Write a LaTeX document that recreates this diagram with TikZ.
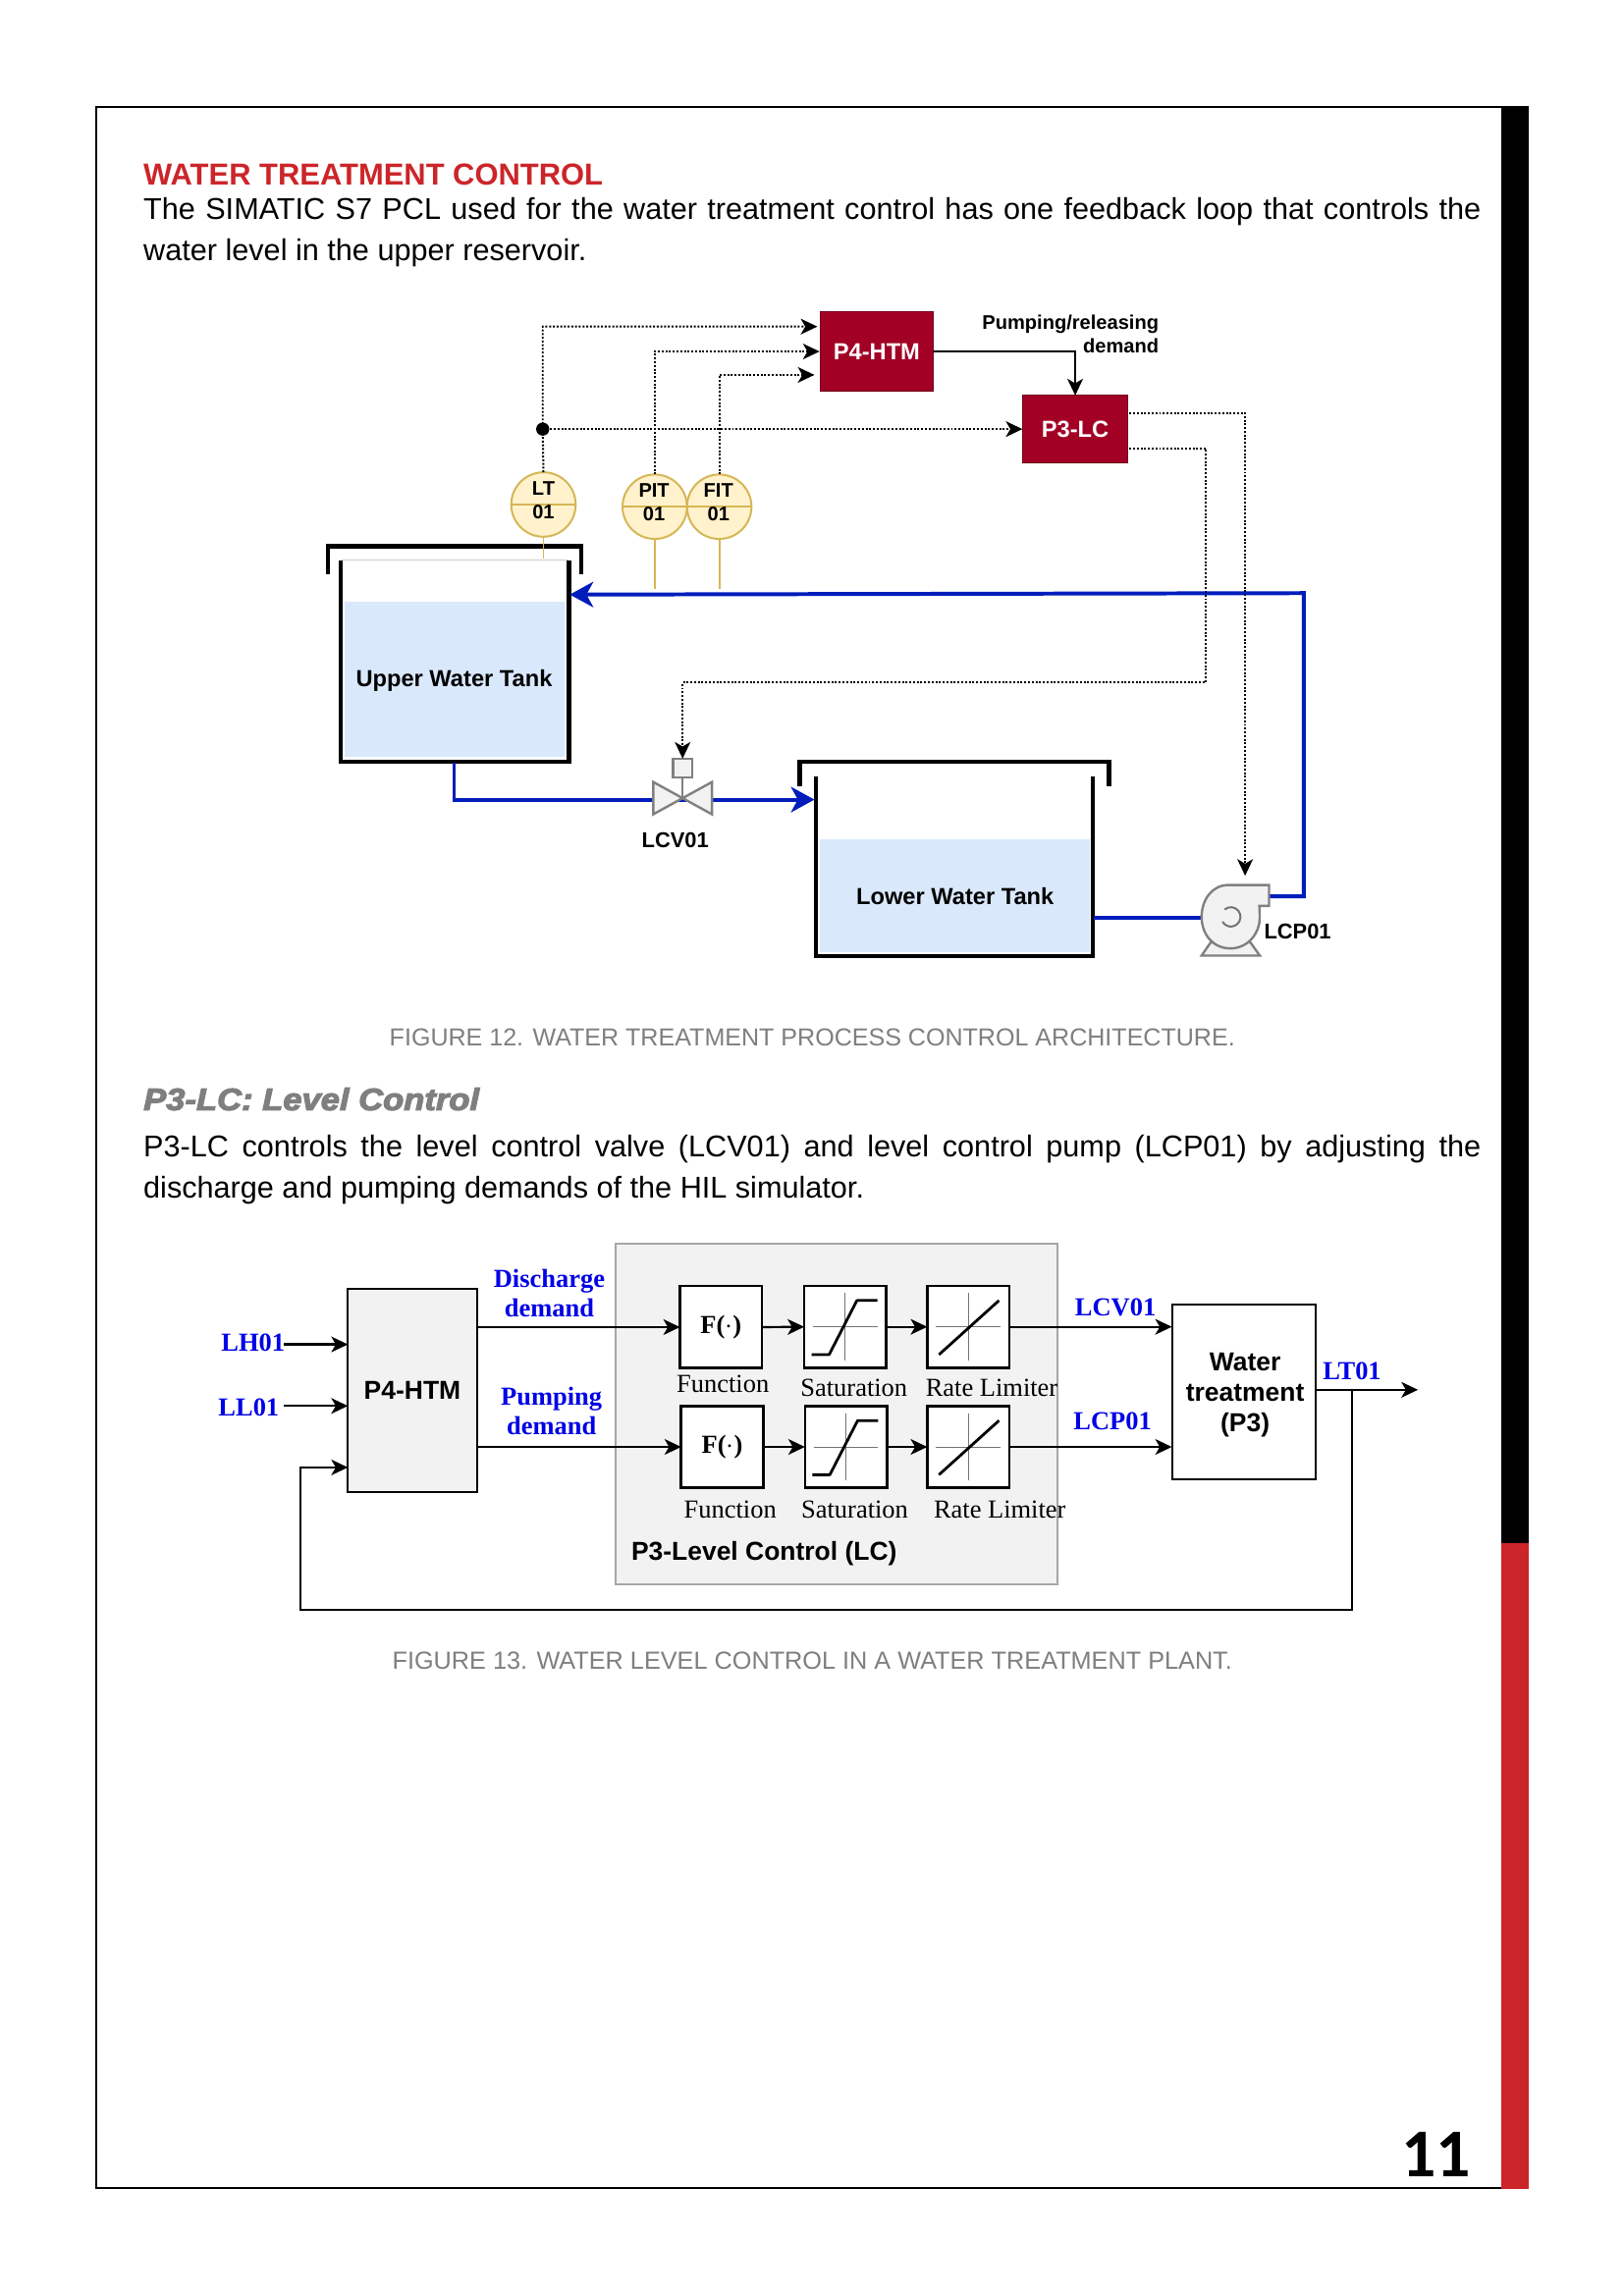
\documentclass[tikz,border=0pt]{standalone}
\usepackage{fontspec}
\setmainfont{Liberation Sans}
\newfontfamily\serifface{Liberation Serif}
\newfontfamily\pageface{Carlito}
\newfontfamily\heavyface[FakeBold=3.5,FakeStretch=1.1]{Liberation Sans Bold Italic}
\usetikzlibrary{arrows.meta,positioning,calc}
\newcommand{\dd}{0.75pt}
\definecolor{redhead}{HTML}{CC2529}
\definecolor{capgray}{HTML}{7F7F7F}
\definecolor{plcred}{HTML}{A20025}
\definecolor{pipeblue}{HTML}{001DBC}
\definecolor{waterblue}{HTML}{DAE8FC}
\definecolor{instfill}{HTML}{FFF2CC}
\definecolor{instline}{HTML}{D6B656}
\definecolor{panelgray}{HTML}{F2F2F2}
\definecolor{labelblue}{HTML}{0000E6}

\begin{document}
\begin{tikzpicture}[x=\dd, y=-\dd, >={Stealth[length=8.5pt,width=8pt,inset=2.3pt]}, semithick]
\tikzstyle{every node}=[inner sep=0pt, outer sep=0pt]
\tikzset{sized/.style 2 args={minimum width=#1*\dd, minimum height=#2*\dd}}
\tikzstyle{body}=[anchor=north west, text width=684.75pt, align=justify, font=\fontsize{15.4}{21.1}\selectfont, execute at begin node={\hyphenpenalty=10000\tolerance=9999\emergencystretch=40pt}]
\tikzstyle{caption}=[text=capgray, font=\fontsize{12.6}{15}\selectfont]
\tikzstyle{plc}=[draw=plcred!70!black, fill=plcred, text=white, font=\fontsize{11.9}{14}\bfseries]
\tikzstyle{inst}=[circle, draw=instline, fill=instfill, line width=1pt, minimum size=33pt]
\tikzstyle{instlabel}=[font=\fontsize{10.1}{12}\bfseries]
\tikzstyle{wall}=[line width=2.2pt, line cap=butt, miter limit=10]
\tikzstyle{pipe}=[draw=pipeblue, line width=2pt]
\tikzstyle{bigtip}=[>={Stealth[length=12pt,width=13pt,inset=3.5pt]}]
\tikzstyle{signal}=[dash pattern=on 1pt off 0.9pt, line width=1pt]
\tikzstyle{equip}=[draw=black!50, fill=panelgray, line width=1.2pt]
\tikzstyle{tag}=[font=\fontsize{11}{13}\bfseries]
\tikzstyle{block}=[draw=black, line width=1pt, text=black]
\tikzstyle{fn}=[block, fill=white, line width=1.3pt, sized={56}{56}, font=\fontsize{13.3}{16}\serifface\bfseries]
\tikzstyle{blue}=[text=labelblue, align=center, font=\fontsize{13.3}{15}\serifface\bfseries]
\tikzstyle{rm}=[font=\fontsize{13.3}{16}\serifface]
\tikzstyle{axis}=[draw=black!55, line width=0.5pt]
\tikzstyle{curve}=[line width=1.4pt, line join=round]
\tikzstyle{link}=[line width=1.1pt]

% page
\useasboundingbox (0,0) rectangle (1108.6,1567.8);
\fill[white] (0,0) rectangle (1108.6,1567.8);
\draw[line width=1pt] (1025,73) -- (65.5,73) -- (65.5,1494) -- (1025,1494);
\fill[black] (1024.7,72.5) rectangle (1043.5,1054);
\fill[redhead] (1024.7,1054) rectangle (1043.5,1495);
\node[anchor=base west, text=redhead, font=\fontsize{15.55}{18}\bfseries] (title) at (98,126.5) {WATER TREATMENT CONTROL};
\node[body] (introtext) at (98,135) {The SIMATIC S7 PCL used for the water treatment control has one feedback loop that controls the water level in the upper reservoir.};
\node[caption, anchor=base] (capa) at (554.5,714) {FIGURE 12. WATER TREATMENT PROCESS CONTROL ARCHITECTURE.};
\node[anchor=base west, text=capgray, font=\fontsize{15.8}{18}\heavyface] (subtitle) at (98,758) {P3-LC: Level Control};
\node[body] (lctext) at (98,775.2) {P3-LC controls the level control valve (LCV01) and level control pump (LCP01) by adjusting the discharge and pumping demands of the HIL simulator.};
\node[caption, anchor=base, font=\fontsize{12.7}{15}\selectfont] (capb) at (554.5,1140) {FIGURE 13. WATER LEVEL CONTROL IN A WATER TREATMENT PLANT.};
\node[anchor=base east, font=\fontsize{35}{40}\pageface\bfseries] (pagenum) at (1004,1486.5) {11};

% process diagram
\node[plc, sized={77}{54}] (htm) at (598.5,240) {P4-HTM};
\node[plc, sized={72}{46}] (lc) at (734,293) {P3-LC};
\node[align=right, anchor=north east, font=\fontsize{10.1}{12}\bfseries] (demand) at (791,215) {Pumping/releasing\\demand};
\node[inst] (lt) at (371,344.5) {};
\node[inst] (pit) at (447,346) {};
\node[inst] (fit) at (491,346) {};
\draw[instline, line width=1pt] (lt.west) -- (lt.east);
\draw[instline, line width=1pt] (pit.west) -- (pit.east);
\draw[instline, line width=1pt] (fit.west) -- (fit.east);
\node[instlabel] (lta) at (371,333.5) {LT};
\node[instlabel] (ltb) at (371,349.5) {01};
\node[instlabel] (pita) at (446.5,335) {PIT};
\node[instlabel] (pitb) at (446.5,351) {01};
\node[instlabel] (fita) at (490.5,335) {FIT};
\node[instlabel] (fitb) at (490.5,351) {01};

% tanks
\node[fill=waterblue, sized={150}{106}] (upper) at (310.5,464) {};
\node[font=\fontsize{11.9}{14}\bfseries] (upperlabel) at (310,465) {Upper Water Tank};
\draw[black!20, thin] (233,382.5) -- (388,382.5);
\draw[wall] (232.5,383) -- (232.5,520) -- (388.5,520) -- (388.5,383);
\draw[wall] (224,392) -- (224,373) -- (397,373) -- (397,392);
\node[fill=waterblue, sized={184}{77}] (lower) at (652,611.5) {};
\node[font=\fontsize{11.9}{14}\bfseries] (lowerlabel) at (652,612) {Lower Water Tank};
\draw[wall] (557,530) -- (557,653) -- (746,653) -- (746,530);
\draw[wall] (546,537) -- (546,520) -- (757,520) -- (757,537);
\draw[instline, line width=1pt] (lt.south) -- ++(0,15);
\draw[instline, line width=1pt] (pit.south) -- ++(0,34);
\draw[instline, line width=1pt] (fit.south) -- ++(0,34);

% pipes
\coordinate (upout) at (310,521);
\coordinate (valve) at (466,546);
\coordinate (lowin) at (556,546);
\coordinate (lowout) at (747,626.5);
\coordinate (pumpin) at (820,626.5);
\coordinate (pumpout) at (866,612);
\coordinate (upin) at (389,406);
\draw[pipe] (upout) |- (valve);
\draw[pipe, bigtip, ->] (valve) -- (lowin);
\draw[pipe] (lowout) -- (pumpin);
\draw[pipe, bigtip, ->] (pumpout) -- (890,612) -- (890,405) -- (upin);

% valve and pump
\draw[equip] (446,534) -- (466,545) -- (446,556) -- cycle;
\draw[equip] (486,534) -- (466,545) -- (486,556) -- cycle;
\draw[draw=black!50, line width=1.2pt] (466,531) -- (466,545);
\node[equip, sized={13}{13}] (act) at (466,524.5) {};
\node[tag] (lcv) at (461,573.5) {LCV01};
\draw[equip] (826.5,643.5) -- (820.3,652.5) -- (860,652.5) -- (853.6,643.5) -- cycle;
\draw[equip] (866.3,604.3) -- (838.6,604.3) .. controls (827,604.3) and (820.3,615) .. (820.3,626) .. controls (820.3,638) and (828,647.6) .. (840,647.6) .. controls (852,647.6) and (860,637) .. (860,627) .. controls (860,624) and (859.8,621) .. (859.7,618.6) -- (866.3,618.6) -- cycle;
\draw[draw=black!55, line width=1pt] (836,621) arc[start angle=-130, end angle=150, radius=6.6];
\coordinate (pump) at (850,598);
\node[tag, anchor=west] (lcp) at (863,636) {LCP01};

% signals
\fill (370.5,293) circle[radius=4.5] coordinate (tap);
\coordinate (htmtop) at (558,223);
\coordinate (htmmid) at (559.5,240);
\coordinate (htmlow) at (556,256);
\coordinate (lcaout) at (771,282);
\coordinate (lcbout) at (771,306);
\draw[signal, ->] (lt.north) -- (tap) |- (htmtop);
\draw[signal, ->] (pit.north) |- (htmmid);
\draw[signal, ->] (fit.north) |- (htmlow);
\draw[signal, ->] (tap) -- (lc.west);
\draw[signal, ->] (lcaout) -| (pump);
\draw[signal, ->] (lcbout) -- (823,306) -- (823,466) -| (act.north);
\draw[link, ->] (htm.east) -| (lc.north);

% control diagram
\node[draw=black!35, fill=panelgray, line width=1pt, sized={302}{233}] (panel) at (571,965.5) {};
\node[block, fill=panelgray, sized={88}{139}, font=\fontsize{13.3}{16}\bfseries] (htmb) at (281.5,949.5) {P4-HTM};
\node[block, fill=white, sized={98}{119}, align=center, font=\fontsize{13.3}{15.75}\bfseries] (plant) at (849,950.5) {};
\node[align=center, font=\fontsize{13.3}{15.75}\bfseries] (plantlabel) at (850,952.5) {Water\\treatment\\(P3)};
\node[fn] (fa) at (492.2,906.2) {F($\cdot$)};
\node[fn] (sa) at (577,906) {};
\node[fn] (ra) at (661,906) {};
\node[fn] (fb) at (493,988) {F($\cdot$)};
\node[fn] (sb) at (577.5,988) {};
\node[fn] (rb) at (661,988) {};

% blue labels
\node[blue] (disch) at (375,883) {Discharge\\demand};
\node[blue] (pumpd) at (376.5,963.5) {Pumping\\demand};
\node[blue, anchor=east] (lh) at (194.5,917) {LH01};
\node[blue, anchor=east] (ll) at (190.5,961) {LL01};
\node[blue] (lcvb) at (761.5,893) {LCV01};
\node[blue] (lcpb) at (759.5,970.5) {LCP01};
\node[blue] (ltb2) at (923,936) {LT01};
\node[rm] (fna) at (493.5,945) {Function};
\node[rm] (saa) at (583,948) {Saturation};
\node[rm] (raa) at (677,948) {Rate Limiter};
\node[rm] (fnb) at (498.5,1031) {Function};
\node[rm] (sab) at (583.5,1031) {Saturation};
\node[rm] (rab) at (682.5,1031) {Rate Limiter};
\node[anchor=west, font=\fontsize{13.3}{16}\bfseries] (paneltitle) at (431,1060.5) {P3-Level Control (LC)};

% icons
\begin{scope}[shift={(sa)}]
\draw[axis] (-22,0) -- (22,0);
\draw[axis] (0,-23) -- (0,23);
\draw[curve] (-23,19) -- (-11,19) -- (8,-18) -- (22,-18);
\end{scope}
\begin{scope}[shift={(sb)}]
\draw[axis] (-22,0) -- (22,0);
\draw[axis] (0,-23) -- (0,23);
\draw[curve] (-23,19) -- (-11,19) -- (8,-18) -- (22,-18);
\end{scope}
\begin{scope}[shift={(ra)}]
\draw[axis] (-22,0) -- (22,0);
\draw[axis] (0,-23) -- (0,23);
\draw[curve] (-20,19) -- (21,-18);
\end{scope}
\begin{scope}[shift={(rb)}]
\draw[axis] (-22,0) -- (22,0);
\draw[axis] (0,-23) -- (0,23);
\draw[curve] (-20,19) -- (21,-18);
\end{scope}

% connectors
\coordinate (lhend) at (194,918);
\coordinate (llend) at (194,960);
\coordinate (fbin) at (237.5,1002);
\coordinate (outend) at (968,949);
\coordinate (outtap) at (923,949);
\draw[link, ->] (lhend) -- (htmb.west |- lhend);
\draw[link, ->] (llend) -- (htmb.west |- llend);
\draw[link, ->] (htmb.east |- fa.west) -- (fa.west);
\draw[link, ->] (htmb.east |- fb.west) -- (fb.west);
\draw[link, ->] (fa.east) -- (sa.west);
\draw[link, ->] (sa.east) -- (ra.west);
\draw[link, ->] (fb.east) -- (sb.west);
\draw[link, ->] (sb.east) -- (rb.west);
\draw[link, ->] (ra.east) -- (plant.west |- ra.east);
\draw[link, ->] (rb.east) -- (plant.west |- rb.east);
\draw[link, ->] (plant.east |- outend) -- (outend);
\draw[link, ->] (outtap) -- (923,1099) -- (205,1099) |- (fbin);
\end{tikzpicture}
\end{document}
